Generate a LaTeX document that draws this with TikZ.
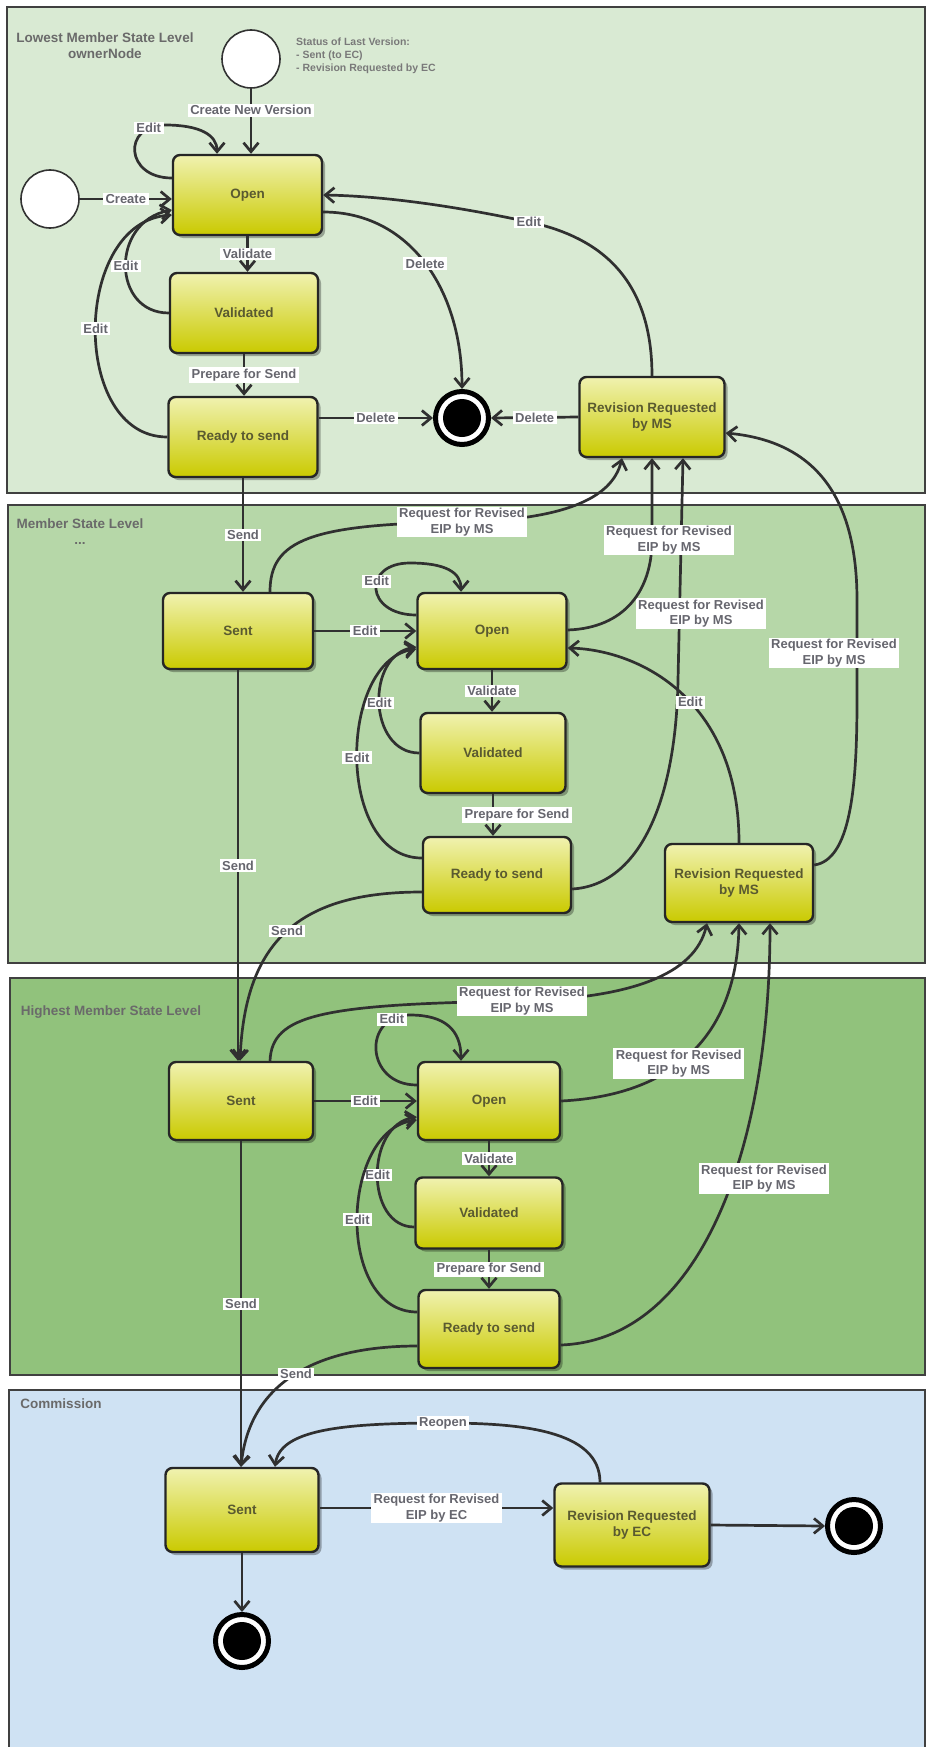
\documentclass[tikz,border=0pt]{standalone}
\usepackage{fontspec}
\setmainfont{Liberation Sans}
\usetikzlibrary{arrows.meta,shadows}
\definecolor{pone}{HTML}{D9EAD3}
\definecolor{ptwo}{HTML}{B6D7A8}
\definecolor{pthree}{HTML}{91C27C}
\definecolor{pfour}{HTML}{CFE2F3}
\definecolor{edgec}{HTML}{303030}
\definecolor{boxtop}{HTML}{F0F2B0}
\definecolor{boxbot}{HTML}{CACA00}
\definecolor{boxtext}{HTML}{5A5A30}
\definecolor{lbltext}{HTML}{66666E}
\definecolor{titletext}{HTML}{6A6A6A}
\begin{document}
\begin{tikzpicture}[x=1pt,y=-1pt,
  panelbox/.style={draw=black!75,line width=1.6pt},
  stbox/.style={draw=black!85,line width=2.4pt,rounded corners=7pt,top color=boxtop,bottom color=boxbot,
    minimum width=148pt,minimum height=78pt,inner sep=2pt,align=center,text=boxtext,
    font=\fontsize{13.5}{16}\selectfont\bfseries,
    drop shadow={shadow xshift=3pt,shadow yshift=-3pt,opacity=0.3,fill=black}},
  initst/.style={circle,draw=black!80,line width=1.6pt,fill=white,minimum size=58pt,inner sep=0pt},
  finst/.style={circle,draw=black,line width=5pt,fill=white,minimum size=53pt,inner sep=0pt,
    path picture={\fill[black] (path picture bounding box.center) circle (19pt);}},
  arr/.style={draw=edgec,line width=2.7pt,-{Straight Barb[length=9pt,width=15pt]}},
  lbl/.style={fill=white,text=lbltext,font=\fontsize{13}{15.5}\selectfont\bfseries,inner xsep=2.5pt,inner ysep=1.5pt,align=center},
  ptitle/.style={text=titletext,font=\fontsize{13.5}{16}\selectfont\bfseries,align=center,inner sep=0pt},
  notest/.style={text=titletext!90,font=\fontsize{10.5}{13}\selectfont\bfseries,align=left,inner sep=0pt}
]
\useasboundingbox (0,0) rectangle (932,1747);
\fill[white] (0,0) rectangle (932,1747);
% panels
\filldraw[panelbox,fill=pone] (7,7) rectangle (925,493);
\filldraw[panelbox,fill=ptwo] (8,505) rectangle (925,963);
\filldraw[panelbox,fill=pthree] (10,978) rectangle (925,1375);
\filldraw[panelbox,fill=pfour] (9,1390) rectangle (925,1760);

% titles
\node[ptitle] (t1) at (105,46) {Lowest Member State Level\\ownerNode};
\node[notest,anchor=west] (note) at (296,56) {Status of Last Version:\\- Sent (to EC)\\- Revision Requested by EC};
\node[ptitle] (t2) at (80,532) {Member State Level\\...};
\node[ptitle] (t3) at (111,1012) {Highest Member State Level};
\node[ptitle] (t4) at (61,1404) {Commission};

% panel 1 nodes
\node[initst] (init1) at (251,59) {};
\node[initst] (init2) at (50,199) {};
\node[stbox,minimum width=149pt,minimum height=80pt] (open1) at (247.5,195) {Open};
\node[stbox,minimum height=80pt] (val1) at (244,313) {Validated};
\node[stbox,minimum width=149pt,minimum height=80pt] (ready1) at (243,437) {Ready to send};
\node[stbox,minimum width=145pt,minimum height=80pt] (rev1) at (652,417) {Revision Requested\\by MS};
\node[finst] (fin1) at (462,418) {};

% panel 2 nodes
\node[stbox,minimum width=150pt,minimum height=76pt] (sent2) at (238,631) {Sent};
\node[stbox,minimum width=149pt,minimum height=76pt] (open2) at (492,631) {Open};
\node[stbox,minimum width=145pt,minimum height=80pt] (val2) at (493,753) {Validated};
\node[stbox,minimum height=76pt] (ready2) at (497,875) {Ready to send};
\node[stbox] (rev2) at (739,883) {Revision Requested\\by MS};

% panel 3 nodes
\node[stbox,minimum width=144pt] (sent3) at (241,1101) {Sent};
\node[stbox,minimum width=142pt] (open3) at (489,1101) {Open};
\node[stbox,minimum width=147pt,minimum height=71pt] (val3) at (489,1213) {Validated};
\node[stbox,minimum width=141pt] (ready3) at (489,1329) {Ready to send};

% panel 4 nodes
\node[stbox,minimum width=153pt,minimum height=84pt] (sent4) at (242,1510) {Sent};
\node[stbox,minimum width=155pt,minimum height=83pt] (revec) at (632,1525) {Revision Requested\\by EC};
\node[finst] (fin2) at (854,1526) {};
\node[finst] (fin3) at (242,1641) {};

% ---------- panel 1 connectors
\draw[arr] (init1.south) -- (init1.south |- open1.north) node[lbl,pos=0.33]{Create New Version};
\draw[arr] (init2.east) -- (init2.east -| open1.west) node[lbl,midway]{Create};
\draw[arr] ([yshift=17pt]open1.west) .. controls (125,178) and (122,125) .. (165,125) node[lbl,pos=0.85]{Edit}
   .. controls (200,125) and (217,135) .. ([xshift=-30.5pt]open1.north);
\draw[arr] (val1.west) .. controls (112,313) and (110,222) .. ([yshift=-15pt]open1.west) node[lbl,pos=0.5]{Edit};
\draw[arr] (ready1.west) .. controls (70,437) and (72,222) .. ([yshift=-20pt]open1.west) node[lbl,pos=0.5]{Edit};
\draw[arr] (open1.south) -- (open1.south |- val1.north) node[lbl,midway]{Validate};
\draw[arr] (val1.south) -- (val1.south |- ready1.north) node[lbl,midway]{Prepare for Send};
\draw[arr] ([yshift=-17pt]open1.east) .. controls (410,212) and (462,290) .. (fin1.north) node[lbl,pos=0.5]{Delete};
\draw[arr] ([yshift=19pt]ready1.east) -- (fin1.west) node[lbl,midway]{Delete};
\draw[arr] (rev1.west) -- (fin1.east) node[lbl,midway]{Delete};
\draw[arr] (rev1.north) .. controls (652,270) and (590,235) .. (529,222) node[lbl]{Edit}
   .. controls (450,205) and (380,196) .. (open1.east);
\draw[arr] (ready1.south) -- (ready1.south |- sent2.north) node[lbl,midway]{Send};

% ---------- panel 2 connectors
\draw[arr] (sent2.east) -- (open2.west) node[lbl,midway]{Edit};
\draw[arr] ([yshift=16pt]open2.west) .. controls (365,615) and (362,563) .. (410,563) node[lbl,pos=0.6]{Edit}
   .. controls (445,563) and (461,572) .. ([xshift=-31pt]open2.north);
\draw[arr] (val2.west) .. controls (368,753) and (365,655) .. ([yshift=-16pt]open2.west) node[lbl,pos=0.5]{Edit};
\draw[arr] ([yshift=17pt]ready2.west) .. controls (335,858) and (338,660) .. ([yshift=-18pt]open2.west) node[lbl,pos=0.5]{Edit};
\draw[arr] (open2.south) -- (open2.south |- val2.north) node[lbl,midway]{Validate};
\draw[arr] (val2.south) -- (val2.south |- ready2.north) node[lbl,midway,xshift=24pt]{Prepare for Send};
\draw[arr] (sent2.south) -- (sent2.south |- sent3.north) node[lbl,midway]{Send};
\draw[arr] ([yshift=-17pt]ready2.west) .. controls (300,892) and (245,940) .. ([xshift=-1pt]sent3.north) node[lbl,pos=0.5]{Send};
\draw[arr] ([xshift=32pt]sent2.north) .. controls (270,540) and (310,524) .. (462,522) node[lbl]{Request for Revised\\EIP by MS}
   .. controls (560,520) and (612,500) .. ([xshift=-30pt]rev1.south);
\draw[arr] ([yshift=-14pt]ready2.east) .. controls (640,885) and (676,800) .. (678,680) -- ([xshift=31pt]rev1.south)
   node[lbl,pos=0.3,xshift=21.5pt]{Request for Revised\\EIP by MS};
\draw[arr] ([yshift=1pt]open2.east) .. controls (625,628) and (652,590) .. (652,540) node[lbl,xshift=17pt]{Request for Revised\\EIP by MS} -- (rev1.south);
\draw[arr] ([yshift=18pt]rev2.east) .. controls (850,860) and (857,790) .. (857,700) -- (857,600)
   node[lbl,pos=0.47,xshift=-23pt]{Request for Revised\\EIP by MS}
   .. controls (857,480) and (800,440) .. ([yshift=-16pt]rev1.east);
\draw[arr] (rev2.north) .. controls (739,700) and (640,650) .. ([yshift=-17pt]open2.east) node[lbl,pos=0.45]{Edit};

% ---------- panel 3 connectors
\draw[arr] (sent3.east) -- (open3.west) node[lbl,midway]{Edit};
\draw[arr] ([yshift=16pt]open3.west) .. controls (365,1085) and (362,1015) .. (410,1015) node[lbl,pos=0.85]{Edit}
   .. controls (445,1015) and (461,1030) .. ([xshift=-28pt]open3.north);
\draw[arr] ([yshift=-14pt]val3.west) .. controls (365,1227) and (365,1125) .. ([yshift=-16pt]open3.west) node[lbl,pos=0.5]{Edit};
\draw[arr] ([yshift=17pt]ready3.west) .. controls (335,1312) and (340,1130) .. ([yshift=-19pt]open3.west) node[lbl,pos=0.5]{Edit};
\draw[arr] (open3.south) -- (open3.south |- val3.north) node[lbl,midway]{Validate};
\draw[arr] (val3.south) -- (val3.south |- ready3.north) node[lbl,midway]{Prepare for Send};
\draw[arr] (sent3.south) -- (sent3.south |- sent4.north) node[lbl,midway]{Send};
\draw[arr] ([yshift=-17pt]ready3.west) .. controls (320,1346) and (250,1380) .. ([xshift=-1pt]sent4.north) node[lbl,pos=0.5]{Send};
\draw[arr] ([xshift=29pt]sent3.north) .. controls (272,1015) and (320,1004) .. (522,1001) node[lbl]{Request for Revised\\EIP by MS}
   .. controls (630,998) and (695,975) .. ([xshift=-32pt]rev2.south);
\draw[arr] (open3.east) .. controls (680,1095) and (737,1030) .. (rev2.south) node[lbl,pos=0.42]{Request for Revised\\EIP by MS};
\draw[arr] ([yshift=-16pt]ready3.east) .. controls (700,1340) and (770,1150) .. ([xshift=31pt]rev2.south)
   node[lbl,pos=0.58,xshift=31pt]{Request for Revised\\EIP by MS};

% ---------- panel 4 connectors
\draw[arr] ([yshift=2pt]sent4.east) -- ([yshift=2pt]sent4.east -| revec.west) node[lbl,midway]{Request for Revised\\EIP by EC};
\draw[arr] ([xshift=-32pt]revec.north) .. controls (600,1430) and (520,1423) .. (443,1423) node[lbl]{Reopen}
   .. controls (340,1423) and (280,1430) .. ([xshift=33pt]sent4.north);
\draw[arr] (revec.east) -- (fin2.west);
\draw[arr] (sent4.south) -- (fin3.north);
\end{tikzpicture}
\end{document}
